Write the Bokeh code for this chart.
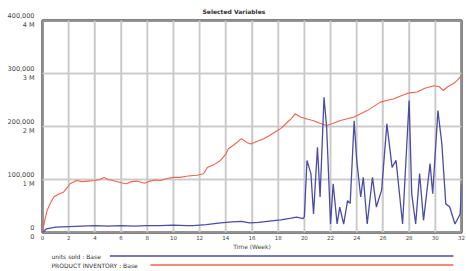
from bokeh.plotting import figure
from bokeh.layouts import column
from bokeh.models import FixedTicker, Title, Range1d, Span
from bokeh.core.properties import value
from bokeh.embed import file_html
from bokeh.resources import INLINE

# ---- data ----
red_t = [0, 0.15, 0.36, 0.6, 0.86, 1.2, 1.6, 1.9, 2.1, 2.6, 3.0, 3.5, 4.0, 4.4, 4.7, 5.0, 5.5, 6.0,
         6.4, 6.8, 7.2, 7.8, 8.2, 8.6, 9.0, 9.5, 10.0, 10.5, 11.0, 11.3, 11.8, 12.3, 12.6, 13.1, 13.6,
         14.0, 14.2, 14.6, 15.2, 15.6, 15.9, 16.4, 16.9, 17.4, 17.8, 18.2, 18.7, 19.0, 19.3, 19.7,
         20.2, 20.7, 21.2, 21.7, 22.2, 22.7, 23.2, 23.8, 24.3, 24.8, 25.3, 25.8, 26.3, 26.8, 27.3,
         27.8, 28.2, 28.6, 29.2, 29.9, 30.3, 30.6, 31.0, 31.4, 31.7, 32.0]
red_v = [0, 20000, 42000, 55000, 67000, 72000, 76000, 85000, 92000, 98000, 96000, 97000, 98000,
         100000, 104000, 100000, 97000, 94000, 92000, 96000, 97000, 93000, 97000, 99000, 98000,
         102000, 104000, 104000, 106000, 107000, 108000, 111000, 123000, 128000, 136000, 148000,
         158000, 165000, 177000, 170000, 167000, 172000, 177000, 184000, 190000, 196000, 208000,
         215000, 224000, 218000, 214000, 211000, 206000, 202000, 206000, 211000, 214000, 218000,
         224000, 230000, 238000, 246000, 249000, 252000, 257000, 262000, 264000, 265000, 272000,
         277000, 275000, 268000, 276000, 281000, 288000, 296000]

blue_t = [0, 0.3, 1, 2, 3, 4, 5, 6, 7, 8, 9, 10, 11, 11.5, 12.5, 13.6, 14.5, 15.2, 15.8, 16.5,
          17.5, 18.2, 19.0, 19.4, 19.9, 20.0, 20.2, 20.5, 20.7, 21.0, 21.2, 21.5, 21.7, 22.0, 22.2,
          22.5, 22.7, 23.0, 23.3, 23.5, 23.8, 24.0, 24.3, 24.5, 24.8, 25.2, 25.5, 25.9, 26.3, 26.7,
          27.0, 27.5, 28.0, 28.2, 28.5, 28.8, 29.1, 29.6, 29.8, 30.2, 30.5, 30.8, 31.1, 31.5, 31.9,
          32.0]
blue_v = [0, 7000, 10000, 11000, 12000, 13000, 12000, 13000, 12000, 13000, 13000, 14000, 13000,
          13000, 15000, 18000, 20000, 21000, 18000, 19000, 22000, 24000, 27000, 29000, 26000,
          30000, 136000, 111000, 35000, 161000, 67000, 255000, 199000, 16000, 92000, 16000, 48000,
          16000, 60000, 55000, 211000, 136000, 67000, 104000, 16000, 104000, 48000, 80000, 205000,
          123000, 136000, 16000, 249000, 73000, 16000, 111000, 23000, 130000, 73000, 230000,
          167000, 54000, 48000, 16000, 35000, 92000]

x_ticks = list(range(0, 33, 2))
y_ticks = [0, 100000, 200000, 300000, 400000]
y_tick_labels = ["0\n0", "100,000\n1 M", "200,000\n2 M", "300,000\n3 M", "400,000\n4 M"]
legend_labels = ["units sold : Base", "PRODUCT INVENTORY : Base"]
legend_colors = ["#4a4ca6", "#f0634c"]

title_text = "Selected Variables"
x_label = "Time (Week)"

FONT = "DejaVu Sans"
GRID = "#c9c9c9"
x_lo, x_hi = x_ticks[0], x_ticks[-1]
y_lo, y_hi = y_ticks[0], y_ticks[-1]

# ---- main chart ----
p = figure(frame_width=419, frame_height=212, x_range=Range1d(x_lo, x_hi),
           y_range=Range1d(y_lo, y_hi), output_backend="svg", toolbar_location=None,
           min_border_left=42, min_border_right=5, min_border_top=20, min_border_bottom=0)

t = Title(text=title_text, text_font_size="6px", text_font_style="bold",
          text_font=FONT, align="left", offset=160, standoff=11, text_color="#333333")
p.add_layout(t, "above")

# grid: native grid plus spans at the same tick positions
p.xgrid.ticker = FixedTicker(ticks=x_ticks)
p.ygrid.ticker = FixedTicker(ticks=y_ticks)
p.xgrid.grid_line_color = GRID
p.ygrid.grid_line_color = GRID
p.xgrid.grid_line_width = 1.5
p.ygrid.grid_line_width = 1.5
for xv in x_ticks:
    p.add_layout(Span(location=xv, dimension="height", line_color=GRID, line_width=1.5,
                      level="underlay"))
for yv in y_ticks:
    p.add_layout(Span(location=yv, dimension="width", line_color=GRID, line_width=1.5,
                      level="underlay"))

p.line(red_t, red_v, line_color=legend_colors[1], line_width=1.1)
p.line(blue_t, blue_v, line_color=legend_colors[0], line_width=1.3)

p.outline_line_color = "#5a5a5a"
p.outline_line_width = 2.5

p.xaxis.ticker = FixedTicker(ticks=x_ticks)
p.yaxis.ticker = FixedTicker(ticks=y_ticks)
p.yaxis.major_label_overrides = {v: s for v, s in zip(y_ticks, y_tick_labels)}
for ax in (p.xaxis, p.yaxis):
    ax.axis_line_color = None
    ax.major_tick_line_color = None
    ax.minor_tick_line_color = None
    ax.major_tick_out = 0
    ax.major_tick_in = 0
    ax.minor_tick_out = 0
    ax.minor_tick_in = 0
    ax.major_label_text_color = "#444444"
    ax.major_label_text_font = FONT
p.xaxis.major_label_text_font_size = "5.5px"
p.yaxis.major_label_text_font_size = "6.5px"
p.yaxis.major_label_standoff = 8
p.xaxis.major_label_standoff = 2
p.xaxis.axis_label = x_label
p.xaxis.axis_label_text_font_size = "6px"
p.xaxis.axis_label_text_font_style = "normal"
p.xaxis.axis_label_text_font = FONT
p.xaxis.axis_label_text_color = "#444444"
p.xaxis.axis_label_standoff = 0

# ---- legend strip ----
lf = figure(width=466, height=18, x_range=Range1d(0, 466), y_range=Range1d(0, 18),
            output_backend="svg", toolbar_location=None,
            min_border_left=0, min_border_right=0, min_border_top=0, min_border_bottom=0)
lf.axis.visible = False
lf.grid.visible = False
lf.outline_line_color = None

ys = [14.5, 5.5]
starts = [75, 120]
lf.text(x=[10, 10], y=ys, text=legend_labels, text_font_size="6px",
        text_font=value(FONT), text_baseline="middle", text_color="#333333")
lf.segment(x0=starts, y0=ys, x1=[457, 457], y1=ys, line_color=legend_colors, line_width=1.5)

layout = column(p, lf, spacing=0)
open("out.html", "w").write(file_html(layout, INLINE))
